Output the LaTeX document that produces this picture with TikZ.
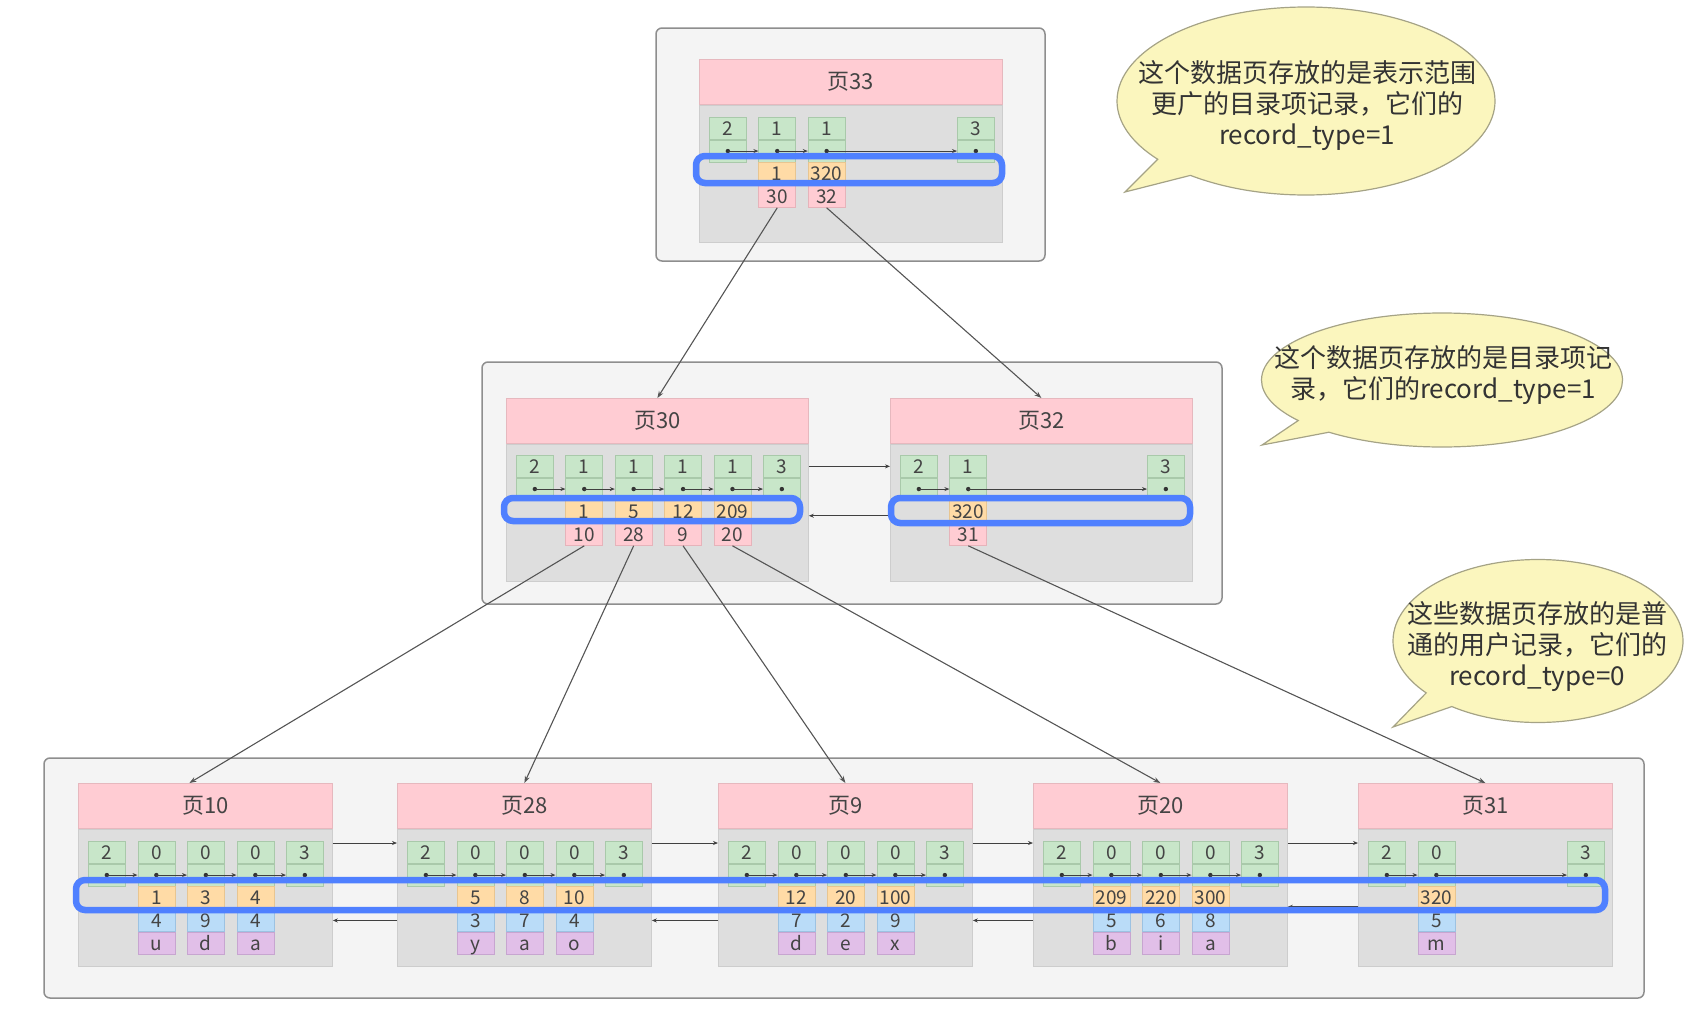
\documentclass[tikz,border=0pt]{standalone}
\usepackage{fontspec}
\setmainfont{Noto Sans CJK SC}
\usetikzlibrary{arrows.meta,shapes.callouts,calc}
\definecolor{outerfill}{HTML}{F4F4F4}
\definecolor{outerline}{HTML}{8E8E8E}
\definecolor{hdrfill}{HTML}{FFCCD3}
\definecolor{hdrline}{HTML}{E6B8BE}
\definecolor{bodyfill}{HTML}{DEDEDE}
\definecolor{bodyline}{HTML}{CDCDCD}
\definecolor{gfill}{HTML}{C8E6C9}
\definecolor{gline}{HTML}{A9C9AA}
\definecolor{kfill}{HTML}{FFDBA6}
\definecolor{kline}{HTML}{E8C590}
\definecolor{vfill}{HTML}{FFCCD3}
\definecolor{vline}{HTML}{E6B3BA}
\definecolor{bfill}{HTML}{BADCF8}
\definecolor{bline}{HTML}{9CC2E2}
\definecolor{ufill}{HTML}{E1BFE8}
\definecolor{uline}{HTML}{C7A5D0}
\definecolor{hlblue}{HTML}{4F80FF}
\definecolor{bubfill}{HTML}{FBF6BE}
\definecolor{bubline}{HTML}{A5A386}
\definecolor{txt}{HTML}{444444}
\definecolor{btxt}{HTML}{333333}
\definecolor{conn}{HTML}{555555}

\tikzset{
  outerbox/.style={fill=outerfill, draw=outerline, line width=1.5pt, rounded corners=6pt},
  hdr/.style={rectangle, anchor=north west, fill=hdrfill, draw=hdrline, line width=0.8pt, minimum height=45pt, inner sep=0pt, text=txt, font=\fontsize{22}{26}\selectfont},
  bodybox/.style={rectangle, anchor=north west, fill=bodyfill, draw=bodyline, line width=0.8pt, minimum height=137pt, inner sep=0pt},
  cellbase/.style={rectangle, anchor=north west, minimum width=37pt, minimum height=22pt, inner sep=0pt, line width=0.7pt, text=txt, font=\fontsize{19}{22}\selectfont, text height=14pt, text depth=0pt},
  gtop/.style={cellbase, fill=gfill, draw=gline},
  gbot/.style={cellbase, fill=gfill, draw=gline},
  kc/.style={cellbase, fill=kfill, draw=kline},
  vc/.style={cellbase, fill=vfill, draw=vline},
  bc/.style={cellbase, fill=bfill, draw=bline},
  uc/.style={cellbase, fill=ufill, draw=uline},
  ptr/.style={draw=black!75, line width=0.9pt, -{Stealth[length=5pt,width=4pt]}},
  link/.style={draw=conn, line width=1.1pt, -{Stealth[length=7pt,width=5pt]}},
  hl/.style={draw=hlblue, line width=6.5pt, rounded corners=9pt},
  bubble/.style={ellipse callout, fill=bubfill, draw=bubline, line width=1.2pt, inner sep=0pt, callout pointer arc=14},
  btext/.style={align=center, text=btxt, font=\fontsize{26}{31}\selectfont, inner sep=0pt},
}

\newcommand{\mkpage}[5]{%
  \node[hdr, minimum width=#4] (#1h) at (#2,#3) {#5};
  \node[bodybox, minimum width=#4] (#1b) at (#1h.south west) {};
}
\newcommand{\gcell}[4]{%
  \node[gtop] (#1) at (#2,#3) {#4};
  \node[gbot] (#1d) at (#1.south west) {};
  \fill[black!80] (#1d.center) circle (2.2pt);
}
\newcommand{\leaf}[4]{%
  \mkpage{#1}{#2}{783}{254}{#3}
  \foreach \i/\t in {0/2,1/0,2/0,3/0,4/3}{\gcell{#1c\i}{#2+10+\i*49.5}{841}{\t}}
  \foreach \i/\j in {0/1,1/2,2/3,3/4}{\draw[ptr] (#1c\i d.center) -- (#1c\j d.west);}
  \foreach \i/\k/\b/\u in {#4}{%
    \node[kc] (#1k\i) at (#1c\i d.south west) {\k};
    \node[bc] (#1v\i) at (#1k\i.south west) {\b};
    \node[uc] (#1u\i) at (#1v\i.south west) {\u};}
}

\begin{document}
\begin{tikzpicture}[x=1pt,y=-1pt]
\useasboundingbox (0,0) rectangle (1700,1012);

% outer boxes
\draw[outerbox] (656,28) rectangle (1045,261);
\draw[outerbox] (482,362) rectangle (1222,604);
\draw[outerbox] (44,758) rectangle (1644,998);

% page 33
\mkpage{p33}{699}{59}{303}{页33}
\foreach \i/\t in {0/2,1/1,2/1}{\gcell{p33c\i}{709+\i*49.4}{117}{\t}}
\gcell{p33c3}{957}{117}{3}
\foreach \i/\j in {0/1,1/2,2/3}{\draw[ptr] (p33c\i d.center) -- (p33c\j d.west);}
\foreach \i/\k/\v in {1/1/30,2/320/32}{%
  \node[kc] (p33k\i) at (p33c\i d.south west) {\k};
  \node[vc] (p33v\i) at (p33k\i.south west) {\v};}

% page 30
\mkpage{p30}{506}{398}{302}{页30}
\foreach \i/\t in {0/2,1/1,2/1,3/1,4/1,5/3}{\gcell{p30c\i}{516+\i*49.4}{455}{\t}}
\foreach \i/\j in {0/1,1/2,2/3,3/4,4/5}{\draw[ptr] (p30c\i d.center) -- (p30c\j d.west);}
\foreach \i/\k/\v in {1/1/10,2/5/28,3/12/9,4/209/20}{%
  \node[kc] (p30k\i) at (p30c\i d.south west) {\k};
  \node[vc] (p30v\i) at (p30k\i.south west) {\v};}

% page 32
\mkpage{p32}{890}{398}{302}{页32}
\gcell{p32c0}{900}{455}{2}
\gcell{p32c1}{949.4}{455}{1}
\gcell{p32c2}{1147}{455}{3}
\foreach \i/\j in {0/1,1/2}{\draw[ptr] (p32c\i d.center) -- (p32c\j d.west);}
\node[kc] (p32k1) at (p32c1d.south west) {320};
\node[vc] (p32v1) at (p32k1.south west) {31};

% leaf pages
\leaf{p10}{78}{页10}{1/1/4/u,2/3/9/d,3/4/4/a}
\leaf{p28}{397}{页28}{1/5/3/y,2/8/7/a,3/10/4/o}
\leaf{p9}{718}{页9}{1/12/7/d,2/20/2/e,3/100/9/x}
\leaf{p20}{1033}{页20}{1/209/5/b,2/220/6/i,3/300/8/a}

% page 31
\mkpage{p31}{1358}{783}{254}{页31}
\gcell{p31c0}{1368}{841}{2}
\gcell{p31c1}{1417.5}{841}{0}
\gcell{p31c2}{1567}{841}{3}
\foreach \i/\j in {0/1,1/2}{\draw[ptr] (p31c\i d.center) -- (p31c\j d.west);}
\node[kc] (p31k1) at (p31c1d.south west) {320};
\node[bc] (p31v1) at (p31k1.south west) {5};
\node[uc] (p31u1) at (p31v1.south west) {m};

% sibling links
\draw[ptr] (p30b.east |- p30c5.center) -- (p32b.west |- p30c5.center);
\draw[ptr] ($(p32b.west |- p32k1.center)+(0,4)$) -- ($(p30b.east |- p32k1.center)+(0,4)$);
\foreach \a/\b in {p10/p28,p28/p9,p9/p20,p20/p31}{%
  \draw[ptr] ($(\a b.east |- \a c0.north)+(0,2)$) -- ($(\b b.west |- \a c0.north)+(0,2)$);}
\foreach \a/\b in {p28/p10,p9/p28,p20/p9}{%
  \draw[ptr] (\a b.west |- \a v1.center) -- (\b b.east |- \a v1.center);}
\draw[ptr] ($(p31b.west |- p31k1.center)+(0,9)$) -- ($(p20b.east |- p31k1.center)+(0,9)$);

% parent-child links
\draw[link] (p33v1.south) -- (p30h.north);
\draw[link] (p33v2.south) -- (p32h.north);
\draw[link] (p30v1.south) -- ($(p10h.north)+(-16,0)$);
\draw[link] (p30v2.south) -- (p28h.north);
\draw[link] (p30v3.south) -- (p9h.north);
\draw[link] (p30v4.south) -- (p20h.north);
\draw[link] (p32v1.south) -- (p31h.north);

% highlights
\draw[hl] (696,156) rectangle (1002,183);
\draw[hl] (504,498) rectangle (800,521);
\draw[hl] (891,498) rectangle (1190,523);
\draw[hl] (76,880) rectangle (1605,910);

% bubbles
\node[bubble, minimum width=378pt, minimum height=188pt, callout absolute pointer={(1125,192)}] (b1) at (1306,101) {};
\node[btext] (b1t) at (1307,106) {这个数据页存放的是表示范围\\更广的目录项记录，它们的\\record\_type=1};
\node[bubble, minimum width=361pt, minimum height=134pt, callout absolute pointer={(1262,445)}] (b2) at (1442,380) {};
\node[btext] (b2t) at (1443,375) {这个数据页存放的是目录项记\\录，它们的record\_type=1};
\node[bubble, minimum width=290pt, minimum height=163pt, callout absolute pointer={(1393,727)}] (b3) at (1538,641) {};
\node[btext] (b3t) at (1537,647) {这些数据页存放的是普\\通的用户记录，它们的\\record\_type=0};
\end{tikzpicture}
\end{document}
